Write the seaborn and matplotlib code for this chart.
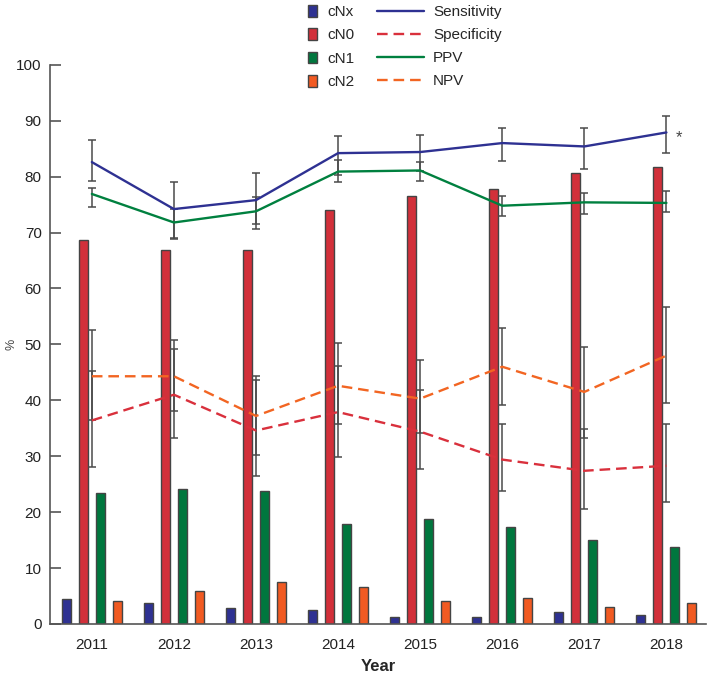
import numpy as np
import pandas as pd
import matplotlib
matplotlib.use("Agg")
import matplotlib.pyplot as plt
from matplotlib.patches import Patch
from matplotlib.lines import Line2D
import seaborn as sns

years = ["2011", "2012", "2013", "2014", "2015", "2016", "2017", "2018"]
stages = ["cNx", "cN0", "cN1", "cN2"]
cNx = [4.4, 3.8, 2.8, 2.5, 1.3, 1.3, 2.2, 1.6]
cN0 = [68.7, 66.8, 66.8, 74.1, 76.5, 77.8, 80.6, 81.8]
cN1 = [23.4, 24.1, 23.8, 17.9, 18.8, 17.3, 15.0, 13.8]
cN2 = [4.1, 5.9, 7.5, 6.6, 4.1, 4.7, 3.1, 3.8]

metrics = ["Sensitivity", "Specificity", "PPV", "NPV"]
sens = [82.6, 74.2, 75.8, 84.2, 84.4, 86.0, 85.4, 87.9]
sens_lo = [79.3, 69.0, 71.5, 80.3, 81.0, 82.8, 81.4, 84.3]
sens_hi = [86.6, 79.0, 80.6, 87.3, 87.5, 88.7, 88.7, 90.9]
spec = [36.4, 41.0, 34.6, 37.9, 34.4, 29.4, 27.4, 28.3]
spec_lo = [28.1, 33.3, 26.5, 29.9, 27.7, 23.7, 20.6, 21.9]
spec_hi = [45.2, 49.2, 43.7, 46.1, 41.8, 35.8, 34.9, 35.8]
ppv = [76.9, 71.8, 73.8, 80.9, 81.1, 74.8, 75.4, 75.3]
ppv_lo = [74.6, 68.8, 70.6, 79.0, 79.3, 73.0, 73.3, 73.7]
ppv_hi = [78.0, 74.3, 76.4, 83.0, 82.7, 76.5, 77.1, 77.4]
npv = [44.3, 44.3, 37.2, 42.6, 40.3, 46.0, 41.5, 48.0]
npv_lo = [36.4, 38.0, 30.2, 35.8, 34.1, 39.1, 33.3, 39.5]
npv_hi = [52.5, 50.8, 44.4, 50.2, 47.2, 53.0, 49.5, 56.7]

bar_colors = ["#2E3192", "#D2303A", "#00773E", "#F15A22"]
line_colors = {"Sensitivity": "#2E3192", "Specificity": "#D9303C",
               "PPV": "#00803F", "NPV": "#F26522"}
line_dash = {"Sensitivity": "", "Specificity": (4.5, 2.5), "PPV": "", "NPV": (4.5, 2.5)}

sns.set_theme(style="ticks")
plt.rcParams["font.family"] = ["Liberation Sans", "DejaVu Sans"]

bars = pd.DataFrame({"Year": np.repeat(years, 4),
                     "Stage": stages * len(years),
                     "Value": np.column_stack([cNx, cN0, cN1, cN2]).ravel()})

vals = {"Sensitivity": (sens, sens_lo, sens_hi), "Specificity": (spec, spec_lo, spec_hi),
        "PPV": (ppv, ppv_lo, ppv_hi), "NPV": (npv, npv_lo, npv_hi)}
rows = []
for m in metrics:
    for i, y in enumerate(years):
        rows.append({"x": i, "Metric": m, "Value": vals[m][0][i]})
lines = pd.DataFrame(rows)

fig = plt.figure(figsize=(7.09, 6.77), dpi=100)
ax = fig.add_axes([0.0705, 0.0783, 0.925, 0.826])

sns.barplot(data=bars, x="Year", y="Value", hue="Stage", hue_order=stages,
            palette=bar_colors, width=0.83, gap=0.47, edgecolor="#444444",
            linewidth=1.0, saturation=1, ax=ax, legend=False, zorder=2)

sns.lineplot(data=lines, x="x", y="Value", hue="Metric", hue_order=metrics,
             palette=line_colors, style="Metric", dashes=line_dash,
             linewidth=1.7, ax=ax, legend=False, zorder=4)

xs = np.arange(len(years))
for m in metrics:
    v, lo, hi = (np.array(a) for a in vals[m])
    ax.errorbar(xs, v, yerr=[v - lo, hi - v], fmt="none", ecolor="#4a4a4a",
                elinewidth=1.1, capsize=3.0, capthick=1.1, zorder=3)

ax.annotate("*", xy=(xs[-1], sens[-1]), xytext=(7, -4), textcoords="offset points",
            fontsize=12, color="#444444", va="center", ha="left")

ax.set_ylim(0, 100)
ax.set_xlim(-0.51, 7.48)
ax.set_yticks(range(0, 101, 10))
ax.tick_params(axis="y", direction="in", length=8, width=1.2, color="#555555",
               labelsize=11, pad=6, labelcolor="#222222")
ax.tick_params(axis="x", length=0, labelsize=11, pad=10, labelcolor="#222222")
for s in ["top", "right"]:
    ax.spines[s].set_visible(False)
for s in ["left", "bottom"]:
    ax.spines[s].set_color("#555555")
    ax.spines[s].set_linewidth(1.2)
ax.set_xlabel("Year", fontsize=12, fontweight="bold", labelpad=5)
ax.set_ylabel("%", fontsize=9, color="#444444")
ax.yaxis.set_label_coords(-0.050, 0.5)

h1 = [Patch(facecolor=c, edgecolor="#444444", linewidth=1.0) for c in bar_colors]
leg1 = fig.legend(h1, stages, loc="upper left", bbox_to_anchor=(300 / 709, 1.004),
                  frameon=False, fontsize=11, handlelength=0.6, handleheight=0.8,
                  labelspacing=0.6, handletextpad=0.7, borderpad=0.0)
h2 = [Line2D([0], [0], color=line_colors[m], lw=1.7,
             linestyle="-" if line_dash[m] == "" else (0, line_dash[m])) for m in metrics]
leg2 = fig.legend(h2, metrics, loc="upper left", bbox_to_anchor=(369 / 709, 1.004),
                  frameon=False, fontsize=11, handlelength=3.1,
                  labelspacing=0.6, handletextpad=0.6, borderpad=0.0)

fig.savefig("out.png", dpi=100)
